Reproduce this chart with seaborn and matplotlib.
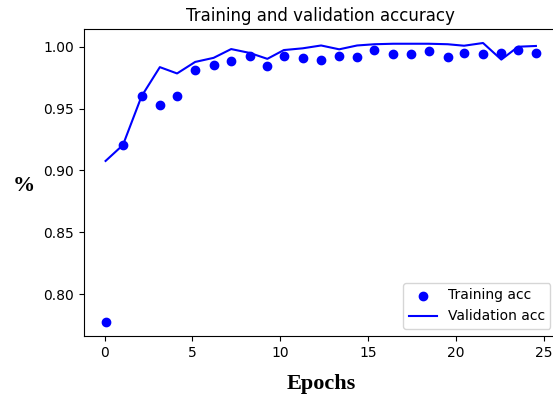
import numpy as np
import pandas as pd
import matplotlib
matplotlib.use('Agg')
import matplotlib.pyplot as plt
import seaborn as sns

# Values
epochs = [0.06, 1.05, 2.11, 3.15, 4.13, 5.16, 6.21, 7.21, 8.26, 9.27, 10.21, 11.28,
          12.33, 13.36, 14.38, 15.37, 16.44, 17.43, 18.46, 19.54, 20.47, 21.55,
          22.59, 23.55, 24.56]
train_acc = [0.7776, 0.9206, 0.960, 0.9533, 0.9603, 0.9813, 0.985, 0.9885, 0.9928,
             0.9848, 0.9928, 0.9907, 0.9896, 0.9928, 0.9917, 0.997, 0.9941, 0.9939,
             0.9965, 0.9917, 0.995, 0.9939, 0.995, 0.997, 0.995]
val_acc = [0.9077, 0.9206, 0.960, 0.9835, 0.9784, 0.9877, 0.991, 0.9981, 0.995,
           0.9902, 0.9973, 0.9987, 1.001, 0.9979, 1.001, 1.002, 1.0024, 1.0024,
           1.0024, 1.002, 1.0008, 1.003, 0.9896, 1.0, 1.0006]

df = pd.DataFrame({'epoch': epochs, 'acc': train_acc, 'val_acc': val_acc})

fig = plt.figure(figsize=(5.53, 3.98), dpi=100)
ax = fig.add_axes([0.152, 0.156, 0.856, 0.771])

sns.scatterplot(data=df, x='epoch', y='acc', color='blue', edgecolor='blue',
                s=36, linewidth=1, label='Training acc', ax=ax, zorder=3)
sns.lineplot(data=df, x='epoch', y='val_acc', color='blue', linewidth=1.5,
             label='Validation acc', ax=ax)

ax.set_title('Training and validation accuracy', fontsize=12)
ax.set_xlabel('Epochs', fontsize=16, fontweight='bold', family='Liberation Serif',
              labelpad=10)
ax.set_ylabel('%', fontsize=16, fontweight='bold', family='Liberation Serif',
              rotation=0, ha='center', va='center')
ax.yaxis.set_label_coords(-0.128, 0.49)
ax.set_xticks([0, 5, 10, 15, 20, 25])
ax.set_yticks([0.80, 0.85, 0.90, 0.95, 1.00])
ax.set_yticklabels(['0.80', '0.85', '0.90', '0.95', '1.00'])
ax.legend(loc='lower right')

fig.savefig('out.png', dpi=100)
